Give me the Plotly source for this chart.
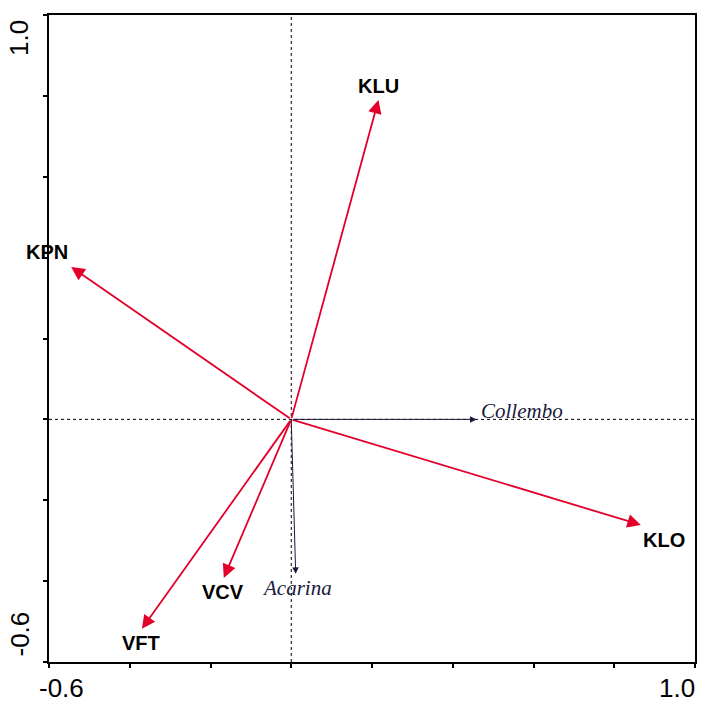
import plotly.graph_objects as go

# Site vectors (biplot scores)
sites = ["KLU", "KPN", "KLO", "VCV", "VFT"]
site_x = [0.216, -0.545, 0.866, -0.167, -0.370]
site_y = [0.790, 0.377, -0.261, -0.392, -0.518]

# Species vectors
species = ["Collembo", "Acarina"]
species_x = [0.459, 0.011]
species_y = [0.0, -0.382]

# Axis extent and tick positions
axis_min, axis_max = -0.6, 1.0
tick_vals = [-0.6, -0.4, -0.2, 0.0, 0.2, 0.4, 0.6, 0.8, 1.0]

# label offsets in pixels relative to arrow tips
site_shift = [(0, 14), (-24, 15), (23, -15), (-1, -14), (-1, -14)]
species_shift = [(45, 8), (1, -14)]

RED = "rgb(226,0,42)"
DARK = "rgb(25,25,60)"

fig = go.Figure()
# invisible trace so axes are created
fig.add_trace(go.Scatter(x=[axis_min, axis_max], y=[axis_min, axis_max],
                         mode="markers", marker=dict(opacity=0), hoverinfo="skip",
                         showlegend=False))

annotations = []

for name, x, y, (dx, dy) in zip(sites, site_x, site_y, site_shift):
    annotations.append(dict(x=x, y=y, ax=0, ay=0, xref="x", yref="y",
                            axref="x", ayref="y", text="", showarrow=True,
                            arrowhead=2, arrowsize=1.5, arrowwidth=1.8,
                            arrowcolor=RED, standoff=0))
    annotations.append(dict(x=x, y=y, xref="x", yref="y", text=f"<b>{name}</b>",
                            showarrow=False, xshift=dx, yshift=dy,
                            xanchor="center", yanchor="middle",
                            font=dict(family="Liberation Sans, Arial", size=20,
                                      color="black")))

for name, x, y, (dx, dy) in zip(species, species_x, species_y, species_shift):
    annotations.append(dict(x=x, y=y, ax=0, ay=0, xref="x", yref="y",
                            axref="x", ayref="y", text="", showarrow=True,
                            arrowhead=2, arrowsize=1.3, arrowwidth=1.0,
                            arrowcolor=DARK, standoff=0))
    annotations.append(dict(x=x, y=y, xref="x", yref="y", text=f"<i>{name}</i>",
                            showarrow=False, xshift=dx, yshift=dy,
                            xanchor="center", yanchor="middle",
                            font=dict(family="Liberation Serif, Times New Roman",
                                      size=21, color=DARK)))

# end-of-axis labels
lab_font = dict(family="Liberation Sans, Arial", size=26, color="black")
annotations += [
    dict(x=0, y=1, xref="paper", yref="paper", text=f"{axis_max:.1f}",
         showarrow=False, textangle=-90, xanchor="right", yanchor="top",
         xshift=-13, yshift=-3, font=lab_font),
    dict(x=0, y=0, xref="paper", yref="paper", text=f"{axis_min:.1f}",
         showarrow=False, textangle=-90, xanchor="right", yanchor="bottom",
         xshift=-13, yshift=3, font=lab_font),
    dict(x=0, y=0, xref="paper", yref="paper", text=f"{axis_min:.1f}",
         showarrow=False, xanchor="left", yanchor="top",
         xshift=-12, yshift=-9, font=lab_font),
    dict(x=1, y=0, xref="paper", yref="paper", text=f"{axis_max:.1f}",
         showarrow=False, xanchor="right", yanchor="top",
         xshift=2, yshift=-9, font=lab_font),
]

# dotted reference lines through the origin
shapes = [
    dict(type="line", xref="x", yref="y", x0=0, x1=0, y0=axis_min, y1=axis_max,
         line=dict(color="black", width=1, dash="dot"), layer="below"),
    dict(type="line", xref="x", yref="y", x0=axis_min, x1=axis_max, y0=0, y1=0,
         line=dict(color="black", width=1, dash="dot"), layer="below"),
]

axis_style = dict(range=[axis_min, axis_max], showgrid=False, zeroline=False,
                  showline=True, linecolor="black", linewidth=2, mirror=True,
                  tickmode="array", tickvals=tick_vals, ticks="outside",
                  ticklen=4, tickwidth=1.5, tickcolor="black",
                  showticklabels=False, fixedrange=True)

fig.update_layout(
    width=701, height=702,
    margin=dict(l=49, r=4, t=15, b=40),
    paper_bgcolor="white", plot_bgcolor="white",
    xaxis=axis_style, yaxis=axis_style,
    annotations=annotations, shapes=shapes,
    showlegend=False,
)

fig.write_html("out.html")
